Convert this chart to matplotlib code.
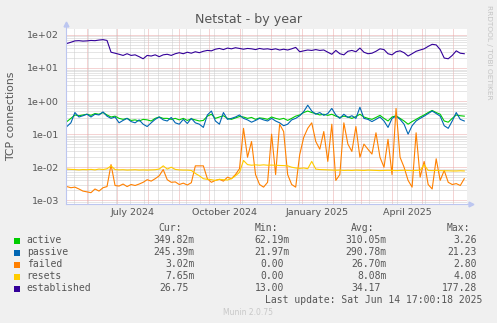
import numpy as np
import pandas as pd

import matplotlib
matplotlib.use("Agg")
import matplotlib.pyplot as plt
import matplotlib.dates as mdates
from matplotlib.patches import Rectangle
from matplotlib.ticker import FixedLocator, LogLocator, NullFormatter

W, H = 497, 323

START = "2024-05-12"
active = [0.24, 0.30, 0.38, 0.36, 0.38, 0.40, 0.37, 0.42, 0.40, 0.45,
          0.38, 0.33, 0.35, 0.30, 0.28, 0.30, 0.26, 0.27, 0.25, 0.28,
          0.27, 0.25, 0.30, 0.33, 0.30, 0.30, 0.28, 0.30, 0.27, 0.30,
          0.26, 0.29, 0.27, 0.25, 0.26, 0.35, 0.40, 0.30, 0.33, 0.36,
          0.30, 0.28, 0.31, 0.34, 0.33, 0.30, 0.32, 0.28, 0.31, 0.30,
          0.28, 0.33, 0.30, 0.28, 0.30, 0.26, 0.30, 0.35, 0.38, 0.45,
          0.50, 0.45, 0.42, 0.38, 0.40, 0.37, 0.40, 0.35, 0.32, 0.35,
          0.33, 0.30, 0.34, 0.40, 0.33, 0.30, 0.28, 0.32, 0.37, 0.30,
          0.25, 0.33, 0.36, 0.30, 0.25, 0.20, 0.24, 0.28, 0.33, 0.38,
          0.45, 0.52, 0.45, 0.40, 0.25, 0.23, 0.30, 0.38, 0.36, 0.35]
passive = [0.17, 0.22, 0.45, 0.33, 0.36, 0.40, 0.33, 0.40, 0.38, 0.47,
           0.35, 0.30, 0.33, 0.22, 0.26, 0.30, 0.24, 0.22, 0.27, 0.20,
           0.17, 0.22, 0.28, 0.33, 0.27, 0.25, 0.32, 0.22, 0.20, 0.28,
           0.21, 0.30, 0.22, 0.20, 0.16, 0.38, 0.50, 0.25, 0.20, 0.45,
           0.28, 0.30, 0.33, 0.38, 0.30, 0.27, 0.23, 0.26, 0.30, 0.27,
           0.25, 0.30, 0.25, 0.22, 0.18, 0.20, 0.27, 0.30, 0.36, 0.48,
           0.75, 0.50, 0.40, 0.45, 0.37, 0.42, 0.60, 0.38, 0.30, 0.40,
           0.32, 0.36, 0.30, 0.65, 0.30, 0.28, 0.24, 0.28, 0.33, 0.25,
           0.16, 0.30, 0.35, 0.28, 0.20, 0.10, 0.18, 0.25, 0.30, 0.35,
           0.42, 0.50, 0.42, 0.35, 0.18, 0.15, 0.25, 0.45, 0.28, 0.25]
failed = [0.0026, 0.0024, 0.0025, 0.0022, 0.0019, 0.0018, 0.0017, 0.0022, 0.0019, 0.0024,
          0.0026, 0.012, 0.0028, 0.0027, 0.0031, 0.0026, 0.0030, 0.0028, 0.0031, 0.0035,
          0.0042, 0.0038, 0.0045, 0.0055, 0.0085, 0.0042, 0.0035, 0.0036, 0.0030, 0.0033,
          0.0029, 0.0034, 0.011, 0.011, 0.011, 0.0045, 0.0035, 0.0040, 0.0043, 0.0038,
          0.0050, 0.0045, 0.0060, 0.009, 0.15, 0.02, 0.06, 0.006, 0.003, 0.0025,
          0.0035, 0.10, 0.006, 0.20, 0.12, 0.006, 0.003, 0.0025, 0.024, 0.08,
          0.15, 0.22, 0.06, 0.035, 0.12, 0.015, 0.20, 0.004, 0.006, 0.22,
          0.05, 0.03, 0.17, 0.02, 0.05, 0.035, 0.025, 0.11, 0.02, 0.01,
          0.07, 0.006, 0.6, 0.02, 0.01, 0.004, 0.0025, 0.11, 0.005, 0.015,
          0.003, 0.0022, 0.018, 0.004, 0.008, 0.0035, 0.003, 0.0032, 0.0028, 0.0045]
resets = [0.0088, 0.0086, 0.0085, 0.0083, 0.0085, 0.0084, 0.0086, 0.0083, 0.0088, 0.0085,
          0.0090, 0.011, 0.0085, 0.0083, 0.0084, 0.0082, 0.0083, 0.0084, 0.0082, 0.0083,
          0.0082, 0.0083, 0.0084, 0.0088, 0.011, 0.0088, 0.010, 0.0086, 0.0083, 0.0082,
          0.0082, 0.0080, 0.0065, 0.0055, 0.0045, 0.0043, 0.0042, 0.0040, 0.0043, 0.0042,
          0.0041, 0.0045, 0.0055, 0.0070, 0.016, 0.012, 0.0115, 0.0118, 0.0115, 0.0118,
          0.0115, 0.0116, 0.0115, 0.0113, 0.0112, 0.0110, 0.0100, 0.0095, 0.0092, 0.0095,
          0.0090, 0.015, 0.0088, 0.0085, 0.0084, 0.0083, 0.0082, 0.0081, 0.0082, 0.0080,
          0.0081, 0.0080, 0.0082, 0.0081, 0.0080, 0.0082, 0.0081, 0.0080, 0.0079, 0.0080,
          0.0081, 0.0080, 0.0079, 0.0080, 0.0081, 0.0080, 0.0079, 0.0080, 0.0081, 0.012,
          0.0080, 0.0079, 0.0080, 0.0079, 0.0078, 0.0078, 0.0077, 0.0077, 0.0078, 0.0077]
established = [55, 60, 66, 67, 65, 66, 68, 67, 70, 72,
               68, 30, 28, 26, 24, 27, 24, 25, 22, 19,
               24, 23, 25, 22, 25, 26, 24, 27, 29, 27,
               30, 28, 31, 29, 32, 34, 33, 37, 39, 36,
               40, 38, 41, 39, 37, 39, 38, 36, 39, 37,
               38, 36, 38, 35, 37, 35, 38, 42, 31, 33,
               35, 34, 36, 34, 35, 30, 26, 34, 27, 25,
               32, 34, 31, 40, 30, 27, 28, 32, 38, 36,
               27, 25, 31, 33, 29, 23, 27, 32, 35, 38,
               45, 52, 50, 36, 20, 19, 24, 33, 28, 27]

names = ["active", "passive", "failed", "resets", "established"]
colors = ["#00CC00", "#0066B3", "#FF8000", "#FFCC00", "#330099"]
cur_vals = ["349.82m", "245.39m", "3.02m", "7.65m", "26.75"]
min_vals = ["62.19m", "21.97m", "0.00", "0.00", "13.00"]
avg_vals = ["310.05m", "290.78m", "26.70m", "8.08m", "34.17"]
max_vals = ["3.26", "21.23", "2.80", "4.08", "177.28"]

y_ticks = [1e-3, 1e-2, 1e-1, 1e0, 1e1, 1e2]
y_labels = ["1e-03", "1e-02", "1e-01", "1e+00", "1e+01", "1e+02"]
month_labels = ["July 2024", "October 2024", "January 2025", "April 2025"]
month_label_dates = ["2024-07-16", "2024-10-16", "2025-01-16", "2025-04-16"]

TXT = "#555555"
RED = "#EBA8A8"
GRAY = "#CDCDCD"
AXC = "#BCC6F0"


def fx(x):
    return x / W


def fy(y):
    return 1 - y / H


dates = pd.date_range(START, periods=len(active), freq="4D")
series = [active, passive, failed, resets, established]

fig = plt.figure(figsize=(W / 100, H / 100), dpi=100, facecolor="#F0F0F0")
ax = fig.add_axes([fx(66), fy(204), 401 / W, 175 / H])
ax.set_facecolor("white")
ax.set_yscale("log")
ax.set_ylim(7.73e-4, 151)
ax.set_xlim(pd.Timestamp("2024-05-11 03:00"), pd.Timestamp("2025-06-14 17:00"))

for vals, col in zip(series, colors):
    ax.plot(dates, vals, color=col, lw=0.8, zorder=3)

# grid
ax.yaxis.set_major_locator(FixedLocator(y_ticks))
ax.yaxis.set_minor_locator(LogLocator(base=10, subs=np.arange(2, 10)))
ax.yaxis.set_minor_formatter(NullFormatter())
ax.set_yticks(y_ticks, labels=y_labels)
ax.xaxis.set_major_locator(mdates.MonthLocator())
ax.xaxis.set_major_formatter(NullFormatter())
ax.xaxis.set_minor_locator(mdates.WeekdayLocator(byweekday=mdates.SU, interval=2))
ax.xaxis.set_minor_formatter(NullFormatter())
ax.grid(which="minor", color=GRAY, lw=0.72, linestyle=(0, (1, 1)), zorder=1)
ax.grid(which="major", color=RED, lw=0.72, linestyle=(0, (1, 1)), zorder=2)
ax.set_axisbelow(True)
ax.tick_params(which="both", length=0)
ax.tick_params(axis="y", labelsize=6.8, labelcolor=TXT, pad=5)

for s in ax.spines.values():
    s.set_visible(False)
ax.plot([0, 0], [0, 1.03], transform=ax.transAxes, color=AXC, lw=0.8, clip_on=False, zorder=4)
ax.plot([0, 1.01], [0, 0], transform=ax.transAxes, color=AXC, lw=0.8, clip_on=False, zorder=4)
ax.plot([0], [1.03], marker="^", ms=3.5, color=AXC, transform=ax.transAxes, clip_on=False)
ax.plot([1.01], [0], marker=">", ms=3.5, color=AXC, transform=ax.transAxes, clip_on=False)

for lab, d in zip(month_labels, month_label_dates):
    ax.text(pd.Timestamp(d), -11 / 175, lab, transform=ax.get_xaxis_transform(),
            ha="center", va="baseline", fontsize=6.8, color=TXT)

fig.text(fx(248.5), fy(23.3), "Netstat - by year", ha="center", va="baseline",
         fontsize=9.1, color=TXT)
fig.text(fx(11), fy(116), "TCP connections", rotation=90, ha="center", va="center",
         fontsize=7.8, color=TXT)
fig.text(fx(488.5), fy(5), "RRDTOOL / TOBI OETIKER", rotation=270, ha="center", va="top",
         fontsize=5.3, color="#C4C4C4")

# legend table
mono = "DejaVu Sans Mono"
cw = 5.85
headers = ["Cur:", "Min:", "Avg:", "Max:"]
head_right = [182, 278, 374, 470]
col_right = [194.3, 290.0, 386.7, 482.5]
for h, xr in zip(headers, head_right):
    fig.text(fx(xr), fy(231), h, ha="right", va="baseline", family=mono, fontsize=7, color=TXT)

rows = [243.3, 255.3, 267.3, 279.3, 291.3]
for i, name in enumerate(names):
    b = rows[i]
    fig.add_artist(Rectangle((fx(14), fy(b + 0.3)), 6 / W, 6 / H,
                             transform=fig.transFigure, color=colors[i], lw=0))
    fig.text(fx(26.7), fy(b), name, ha="left", va="baseline", family=mono, fontsize=7, color=TXT)
    for vals, xr in zip([cur_vals, min_vals, avg_vals, max_vals], col_right):
        v = vals[i]
        x = xr if v.endswith("m") else xr - cw
        fig.text(fx(x), fy(b), v, ha="right", va="baseline", family=mono, fontsize=7, color=TXT)

fig.text(fx(482.3), fy(303.3), "Last update: Sat Jun 14 17:00:18 2025", ha="right",
         va="baseline", family=mono, fontsize=7, color=TXT)
fig.text(fx(248), fy(314.7), "Munin 2.0.75", ha="center", va="baseline", fontsize=5.5,
         color="#C8C8C8")

fig.savefig("out.png", dpi=100, facecolor=fig.get_facecolor())
